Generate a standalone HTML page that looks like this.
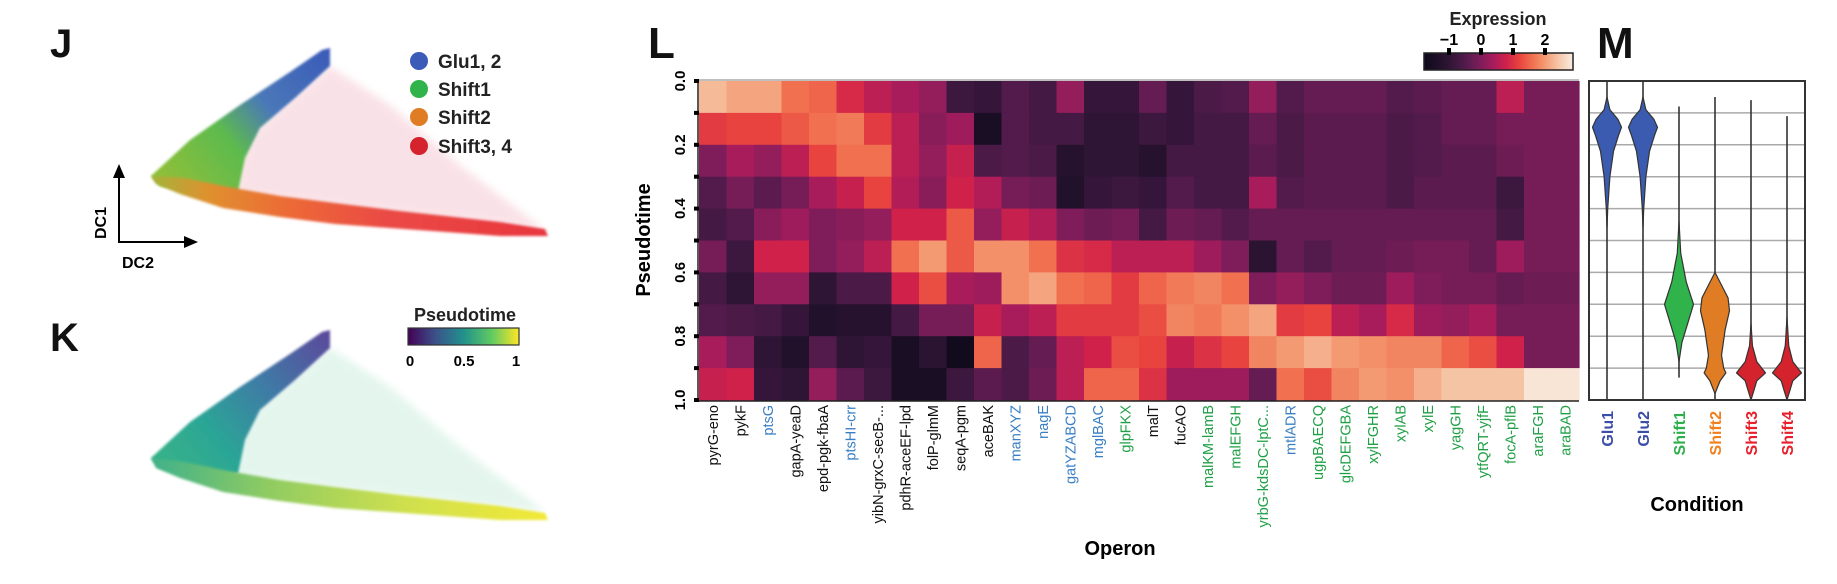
<!DOCTYPE html>
<html><head><meta charset="utf-8"><style>
html,body{margin:0;padding:0;background:#fff;}
svg{display:block;font-family:"Liberation Sans",Arial,sans-serif;}
</style></head><body>
<svg id="fig" width="1837" height="584" viewBox="0 0 1837 584" xmlns="http://www.w3.org/2000/svg">
<defs>
  <linearGradient id="gUpJ" x1="327" y1="50" x2="170" y2="180" gradientUnits="userSpaceOnUse">
    <stop offset="0" stop-color="#3b5bb8"/><stop offset="0.4" stop-color="#4a78b8"/><stop offset="0.65" stop-color="#5dba4e"/><stop offset="1" stop-color="#8cbf3a"/>
  </linearGradient>
  <linearGradient id="gLoJ" x1="151" y1="180" x2="545" y2="232" gradientUnits="userSpaceOnUse">
    <stop offset="0" stop-color="#a3b43a"/><stop offset="0.15" stop-color="#e0902e"/><stop offset="0.35" stop-color="#ec6a36"/><stop offset="0.6" stop-color="#ea4a45"/><stop offset="1" stop-color="#e8363f"/>
  </linearGradient>
  <linearGradient id="gUpK" x1="327" y1="333" x2="170" y2="460" gradientUnits="userSpaceOnUse">
    <stop offset="0" stop-color="#5b4a9c"/><stop offset="0.4" stop-color="#3f7aa6"/><stop offset="0.75" stop-color="#2ba596"/><stop offset="1" stop-color="#35b08a"/>
  </linearGradient>
  <linearGradient id="gLoK" x1="151" y1="460" x2="545" y2="515" gradientUnits="userSpaceOnUse">
    <stop offset="0" stop-color="#3fb18a"/><stop offset="0.3" stop-color="#8fcb62"/><stop offset="0.65" stop-color="#cfe04e"/><stop offset="1" stop-color="#f2e838"/>
  </linearGradient>
  <linearGradient id="gViridis" x1="0" x2="1" y1="0" y2="0">
    <stop offset="0" stop-color="#440154"/><stop offset="0.25" stop-color="#3b528b"/><stop offset="0.5" stop-color="#21918c"/><stop offset="0.75" stop-color="#5ec962"/><stop offset="1" stop-color="#fde725"/>
  </linearGradient>
  <linearGradient id="gMagma" x1="0" x2="1" y1="0" y2="0"></linearGradient>
  <filter id="soft"><feGaussianBlur stdDeviation="1.2"/></filter>
  <filter id="soft2"><feGaussianBlur stdDeviation="4"/></filter>
</defs>

<!-- Panel J -->
<g>
  <text x="50" y="57" font-size="40" font-weight="bold" fill="#111">J</text>
  <polygon points="330,66 290,100 255,130 240,160 235,195 400,214 545,230 460,165 390,105" fill="#f2b8c4" opacity="0.4" filter="url(#soft2)"/>
  <polygon points="151,176 190,140 240,105 290,72 322,50 330,48 330,66 295,98 260,128 245,158 238,192 200,194 160,186" fill="url(#gUpJ)" filter="url(#soft)"/>
  <polygon points="151,176 185,178 223,186 280,196 335,203 400,211 446,216 500,222 545,229 548,236 500,236 446,232 390,228 335,224 280,217 223,208 180,194 156,184" fill="url(#gLoJ)" filter="url(#soft)"/>
  <g>
    <circle cx="419" cy="61" r="9" fill="#3b5bb8"/>
    <text x="438" y="68" font-size="19" font-weight="bold" fill="#222">Glu1, 2</text>
    <circle cx="419" cy="89" r="9" fill="#2fb34a"/>
    <text x="438" y="96" font-size="19" font-weight="bold" fill="#222">Shift1</text>
    <circle cx="419" cy="117" r="9" fill="#e07d24"/>
    <text x="438" y="124" font-size="19" font-weight="bold" fill="#222">Shift2</text>
    <circle cx="419" cy="146" r="9" fill="#d4232c"/>
    <text x="438" y="153" font-size="19" font-weight="bold" fill="#222">Shift3, 4</text>
  </g>
  <g>
    <line x1="119" y1="242" x2="119" y2="176" stroke="#000" stroke-width="2"/>
    <polygon points="113,178 125,178 119,164" fill="#000"/>
    <line x1="118" y1="242" x2="186" y2="242" stroke="#000" stroke-width="2"/>
    <polygon points="184,236 184,248 198,242" fill="#000"/>
    <text x="0" y="0" font-size="16" font-weight="bold" transform="translate(106,223) rotate(-90)" text-anchor="middle">DC1</text>
    <text x="138" y="268" font-size="16" font-weight="bold" text-anchor="middle">DC2</text>
  </g>
</g>

<!-- Panel K -->
<g>
  <text x="50" y="351" font-size="40" font-weight="bold" fill="#111">K</text>
  <polygon points="330,348 290,382 255,412 240,442 235,477 400,496 545,512 460,447 390,387" fill="#c8ecdc" opacity="0.5" filter="url(#soft2)"/>
  <polygon points="151,458 190,422 240,387 290,354 322,332 330,330 330,348 295,380 260,410 245,440 238,474 200,476 160,468" fill="url(#gUpK)" filter="url(#soft)"/>
  <polygon points="151,458 185,462 223,470 280,480 335,487 400,495 446,500 500,506 545,513 548,520 500,520 446,516 390,512 335,508 280,501 223,492 180,478 156,468" fill="url(#gLoK)" filter="url(#soft)"/>
  <g>
    <text x="465" y="321" font-size="18" font-weight="bold" text-anchor="middle" fill="#222">Pseudotime</text>
    <rect x="408" y="328" width="111" height="17" fill="url(#gViridis)" stroke="#333" stroke-width="1.2"/>
    <text x="410" y="366" font-size="15" font-weight="bold" text-anchor="middle">0</text>
    <text x="464" y="366" font-size="15" font-weight="bold" text-anchor="middle">0.5</text>
    <text x="516" y="366" font-size="15" font-weight="bold" text-anchor="middle">1</text>
  </g>
</g>

<!-- Panel L -->
<g id="panelL">
  <text x="648" y="58" font-size="44" font-weight="bold" fill="#111">L</text>
  <g id="hm"></g>
  <g id="hmAxes"></g>
  <text x="0" y="0" font-size="20" font-weight="bold" transform="translate(650,240) rotate(-90)" text-anchor="middle">Pseudotime</text>
  <text x="1120" y="555" font-size="20" font-weight="bold" text-anchor="middle">Operon</text>
  <g id="cbar">
    <text x="1498" y="25" font-size="18" font-weight="bold" text-anchor="middle" fill="#222">Expression</text>
  </g>
</g>

<!-- Panel M -->
<g id="panelM">
  <text x="1597" y="58" font-size="44" font-weight="bold" fill="#111">M</text>
  <g id="violins"></g>
  <text x="1697" y="511" font-size="20" font-weight="bold" text-anchor="middle">Condition</text>
</g>
</svg>

<script>
// ---------- Heatmap data ----------
const operons = ["pyrG-eno","pykF","ptsG","gapA-yeaD","epd-pgk-fbaA","ptsHI-crr","yibN-grxC-secB-...","pdhR-aceEF-lpd","folP-glmM","seqA-pgm","aceBAK","manXYZ","nagE","gatYZABCD","mglBAC","glpFKX","malT","fucAO","malKM-lamB","malEFGH","yrbG-kdsDC-lptC...","mtlADR","ugpBAECQ","glcDEFGBA","xylFGHR","xylAB","xylE","yagGH","ytfQRT-yjfF","focA-pflB","araFGH","araBAD"];
const operonGroup = ["k","k","b","k","k","b","k","k","k","k","k","b","b","b","b","g","k","k","g","g","g","b","g","g","g","g","g","g","g","g","g","g"];
const pseudotimeTicks = ["0.0","0.2","0.4","0.6","0.8","1.0"];
const expressionTicks = [-1,0,1,2];
const row0 = [2.3,2.1,2.1,1.6,1.5,0.9,0.6,0.4,0.2,-0.8,-0.9,-0.5,-0.7,0.2,-0.9,-0.9,-0.3,-0.9,-0.6,-0.5,0.2,-0.5,-0.3,-0.3,-0.3,-0.5,-0.4,-0.3,-0.3,0.6,-0.1,-0.1];
const row1 = [1.1,1.2,1.2,1.4,1.6,1.7,1.1,0.6,0.1,0.3,-1.5,-0.5,-0.7,-0.7,-1.0,-1.0,-0.8,-0.9,-0.7,-0.7,-0.3,-0.6,-0.4,-0.4,-0.4,-0.6,-0.5,-0.3,-0.3,-0.1,-0.1,-0.1];
const row2 = [0.0,0.4,0.2,0.6,1.2,1.6,1.6,0.6,0.2,0.7,-0.6,-0.5,-0.6,-1.2,-1.0,-1.0,-1.2,-0.7,-0.7,-0.7,-0.4,-0.6,-0.4,-0.4,-0.4,-0.6,-0.5,-0.4,-0.4,-0.2,-0.1,-0.1];
const row3 = [-0.5,-0.1,-0.4,-0.1,0.4,0.7,1.2,0.5,0.1,0.8,0.5,-0.1,-0.2,-1.3,-0.9,-0.8,-0.9,-0.5,-0.7,-0.7,0.4,-0.5,-0.4,-0.4,-0.4,-0.6,-0.4,-0.4,-0.4,-0.8,-0.1,-0.1];
const row4 = [-0.7,-0.5,0.1,0.3,0.0,0.1,0.2,0.8,0.8,1.4,0.2,0.7,0.5,0.0,-0.2,-0.1,-0.7,-0.2,-0.3,-0.5,-0.3,-0.3,-0.3,-0.3,-0.3,-0.3,-0.3,-0.3,-0.3,-0.7,-0.1,-0.1];
const row5 = [-0.1,-0.8,0.8,0.8,0.0,0.2,0.6,1.6,2.0,1.4,1.9,1.9,1.6,1.0,0.9,0.6,0.6,0.6,0.3,0.0,-1.1,-0.3,-0.5,-0.3,-0.3,-0.2,-0.1,-0.1,-0.3,0.3,-0.1,-0.1];
const row6 = [-0.7,-1.0,0.2,0.2,-1.0,-0.6,-0.6,0.8,1.3,0.4,0.3,1.9,2.1,1.6,1.5,1.1,1.5,1.7,1.8,1.6,0.0,0.2,0.0,-0.2,-0.2,0.3,0.0,-0.1,-0.1,-0.3,-0.2,-0.2];
const row7 = [-0.5,-0.6,-0.7,-0.9,-1.3,-1.2,-1.2,-0.7,-0.1,-0.1,0.7,0.4,0.6,1.1,1.1,1.1,1.3,1.8,1.7,1.9,2.1,1.1,1.2,0.6,0.4,0.9,0.3,0.2,0.4,-0.1,-0.1,-0.1];
const row8 = [0.4,0.0,-1.0,-1.3,-0.5,-1.0,-0.9,-1.5,-1.1,-1.7,1.5,-0.6,-0.3,0.6,0.8,1.3,1.2,0.7,1.0,1.2,1.8,2.0,2.2,2.0,1.9,1.8,1.8,1.5,1.3,0.8,-0.1,-0.1];
const row9 = [0.7,0.8,-0.9,-1.0,0.2,-0.4,-0.8,-1.5,-1.5,-0.8,-0.4,-0.6,-0.2,0.6,1.5,1.5,1.0,0.3,0.3,0.3,-0.3,1.6,1.3,1.8,2.0,1.9,2.2,2.4,2.4,2.4,2.8,2.8];
const expression = [row0,row1,row2,row3,row4,row5,row6,row7,row8,row9];

// ---------- Violin data ----------
const conditions = ["Glu1","Glu2","Shift1","Shift2","Shift3","Shift4"];
const whiskerTop = [0.0,0.0,0.08,0.05,0.06,0.11];
const whiskerBottom = [1.0,1.0,0.93,1.0,1.0,1.0];
const profileGlu1 = [[0.05,0],[0.09,0.2],[0.12,0.75],[0.145,1.0],[0.17,0.8],[0.22,0.45],[0.3,0.2],[0.4,0.05],[0.46,0]];
const profileGlu2 = [[0.05,0],[0.09,0.2],[0.12,0.75],[0.145,1.0],[0.17,0.8],[0.22,0.45],[0.3,0.2],[0.4,0.05],[0.46,0]];
const profileShift1 = [[0.44,0],[0.54,0.12],[0.63,0.5],[0.70,1.0],[0.76,0.6],[0.82,0.2],[0.88,0]];
const profileShift2 = [[0.6,0],[0.64,0.45],[0.68,0.9],[0.72,1.0],[0.78,0.7],[0.86,0.45],[0.9,0.6],[0.915,0.75],[0.94,0.35],[0.98,0]];
const profileShift3 = [[0.76,0],[0.83,0.1],[0.88,0.4],[0.915,1.0],[0.94,0.4],[0.97,0.2],[1.0,0]];
const profileShift4 = [[0.74,0],[0.83,0.12],[0.88,0.4],[0.915,1.0],[0.94,0.4],[0.97,0.2],[1.0,0]];
const profiles = [profileGlu1,profileGlu2,profileShift1,profileShift2,profileShift3,profileShift4];
const violinColors = ["#3b5bb0","#3b5bb0","#2fb34a","#e07d24","#d4232c","#d4232c"];
const labelColors = ["#3c4fa8","#3c4fa8","#2db04a","#f07f1e","#e8202c","#e8202c"];

// ---------- helpers ----------
const NS = "http://www.w3.org/2000/svg";
function mk(tag, attrs, parent){ const e=document.createElementNS(NS,tag); for(const k in attrs) e.setAttribute(k,attrs[k]); parent.appendChild(e); return e; }
const magmaStops = [[-1.8,[13,9,26]],[-1.0,[46,21,53]],[-0.5,[82,27,76]],[0,[127,29,90]],[0.4,[168,28,91]],[0.8,[208,33,75]],[1.2,[232,67,62]],[1.6,[240,112,80]],[2.0,[244,154,114]],[2.4,[245,196,165]],[2.9,[249,237,226]]];
function magma(v){
  if(v<=magmaStops[0][0]) return "rgb("+magmaStops[0][1].join(",")+")";
  for(let i=1;i<magmaStops.length;i++){
    if(v<=magmaStops[i][0]){
      const a=magmaStops[i-1], b=magmaStops[i], t=(v-a[0])/(b[0]-a[0]);
      return "rgb("+a[1].map((c,j)=>Math.round(c+(b[1][j]-c)*t)).join(",")+")";
    }
  }
  return "rgb("+magmaStops[magmaStops.length-1][1].join(",")+")";
}
const hmX0=699, hmX1=1579, hmY0=81, hmY1=400;
const colW=(hmX1-hmX0)/operons.length;
const xCol = i => hmX0 + i*colW;
const yPt = p => hmY0 + p*(hmY1-hmY0);
const rowH = (hmY1-hmY0)/expression.length;
const groupColor = {k:"#111",b:"#3a7fc4",g:"#20a046"};

const hm=document.getElementById("hm");
expression.forEach((row,r)=>{
  row.forEach((v,c)=>{
    const rc=mk("rect",{x:xCol(c).toFixed(2),y:(hmY0+r*rowH).toFixed(2),width:(colW+0.6).toFixed(2),height:(rowH+0.6).toFixed(2),fill:magma(v)},hm);
    
    
  });
});
const ax=document.getElementById("hmAxes");
mk("line",{x1:hmX0,y1:hmY0-1,x2:hmX1,y2:hmY0-1,stroke:"#999","stroke-width":1.2},ax);
mk("line",{x1:hmX0-1,y1:hmY0,x2:hmX0-1,y2:hmY1+1,stroke:"#222","stroke-width":1.5},ax);
mk("line",{x1:hmX0,y1:hmY1+1,x2:hmX1,y2:hmY1+1,stroke:"#222","stroke-width":1.5},ax);
for(let i=0;i<=10;i++){
  const tm=mk("rect",{x:hmX0-5,y:yPt(i/10)-2,width:5,height:4,fill:"#000"},ax);
  
  
}
pseudotimeTicks.forEach(t=>{
  const y=yPt(parseFloat(t));
  const tx=mk("text",{x:0,y:0,"font-size":15,"font-weight":"bold","text-anchor":"middle",transform:`translate(685,${y}) rotate(-90)`},ax);
  tx.textContent=t;
  
  
});
operons.forEach((o,i)=>{
  const cx=xCol(i)+colW/2+5;
  const tx=mk("text",{x:0,y:0,"font-size":14.5,"text-anchor":"end",fill:groupColor[operonGroup[i]],transform:`translate(${cx},405) rotate(-90)`},ax);
  tx.textContent=o;
  
  
});
const cb=document.getElementById("cbar");
const cbX0=1424, cbX1=1573, cbUnit=32, cbZero=1481;
const grad=document.getElementById("gMagma");
magmaStops.forEach(s=>{
  const off=Math.min(1,Math.max(0,(cbZero+s[0]*cbUnit-cbX0)/(cbX1-cbX0)));
  mk("stop",{offset:off.toFixed(3),"stop-color":"rgb("+s[1].join(",")+")"},grad);
});
mk("rect",{x:cbX0,y:53,width:cbX1-cbX0,height:17,fill:"url(#gMagma)",stroke:"#222","stroke-width":1.5},cb);
expressionTicks.forEach(v=>{
  const x=cbZero+v*cbUnit;
  mk("rect",{x:x-2,y:48,width:4,height:7,fill:"#000"},cb);
  const tx=mk("text",{x:x,y:45,"font-size":16,"font-weight":"bold","text-anchor":"middle"},cb);
  tx.textContent=(v<0?"\u2212":"")+Math.abs(v);
  
  
});

// ---------- violins ----------
const vg=document.getElementById("violins");
const mX0=1589, mX1=1805;
const vStep=(mX1-mX0)/conditions.length;
const xCond = i => mX0 + vStep*(i+0.5);
const maxHalf=14.5;
mk("rect",{x:mX0,y:hmY0,width:mX1-mX0,height:hmY1-hmY0,fill:"#fff"},vg);
for(let i=1;i<10;i++){
  const gl=mk("line",{x1:mX0,x2:mX1,y1:yPt(i/10),y2:yPt(i/10),stroke:"#aaa","stroke-width":1.5},vg);
  
  
}
conditions.forEach((c,i)=>{
  const cx=xCond(i);
  const wl=mk("line",{x1:cx,x2:cx,y1:yPt(whiskerTop[i]),y2:yPt(whiskerBottom[i]),stroke:"#333","stroke-width":1.6},vg);
  
  
  const pr=profiles[i];
  let d="M"+cx+","+yPt(pr[0][0]);
  pr.forEach(p=>{ d+=" L"+(cx+p[1]*maxHalf).toFixed(2)+","+yPt(p[0]).toFixed(2); });
  for(let k=pr.length-1;k>=0;k--){ d+=" L"+(cx-pr[k][1]*maxHalf).toFixed(2)+","+yPt(pr[k][0]).toFixed(2); }
  d+=" Z";
  const vp=mk("path",{d:d,fill:violinColors[i],stroke:"#333","stroke-width":1.2,"stroke-linejoin":"round"},vg);
  
  
  const tx=mk("text",{x:0,y:0,"font-size":16,"font-weight":"bold","text-anchor":"end",fill:labelColors[i],transform:`translate(${cx+6},411) rotate(-90)`},vg);
  tx.textContent=c;
  
  
});
mk("rect",{x:mX0,y:hmY0,width:mX1-mX0,height:hmY1-hmY0,fill:"none",stroke:"#333","stroke-width":2},vg);
</script>
</body></html>
